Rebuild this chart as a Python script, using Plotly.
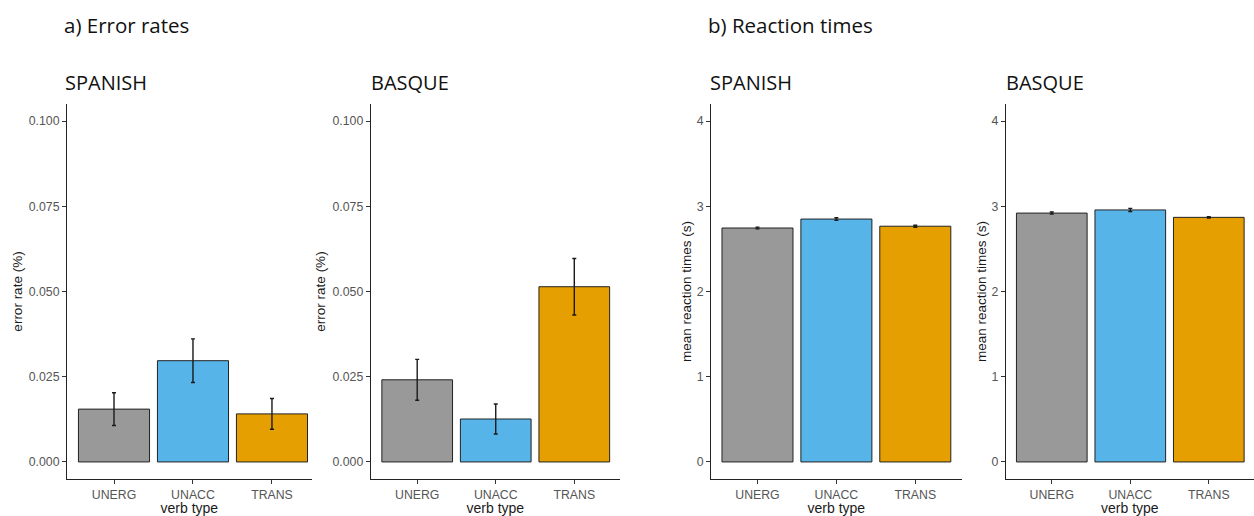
import plotly.graph_objects as go

# ---- data ----
categories = ["UNERG", "UNACC", "TRANS"]
bar_colors = ["#999999", "#56B4E9", "#E69F00"]

err_spanish = [0.0155, 0.0297, 0.0141]
err_spanish_se = [0.0048, 0.0064, 0.0045]
err_basque = [0.0241, 0.0126, 0.0514]
err_basque_se = [0.0060, 0.0044, 0.0083]

rt_spanish = [2.745, 2.850, 2.766]
rt_spanish_se = [0.010, 0.015, 0.012]
rt_basque = [2.920, 2.957, 2.870]
rt_basque_se = [0.012, 0.018, 0.008]

err_ticks = [0, 0.025, 0.05, 0.075, 0.1]
rt_ticks = [0, 1, 2, 3, 4]

W, H = 1254, 516

panels = [
    # (values, se, x-domain px, x-range, y-range, ticks, tickformat, ytitle, subtitle, subtitle x px, y title standoff)
    (err_spanish, err_spanish_se, (67, 311.7), (-0.595, 2.503), (-0.005, 0.105), err_ticks, ".3f", "error rate (%)", "SPANISH", 63, 3),
    (err_basque, err_basque_se, (370.7, 620), (-0.592, 2.582), (-0.005, 0.105), err_ticks, ".3f", "error rate (%)", "BASQUE", 369, 3),
    (rt_spanish, rt_spanish_se, (711, 961.7), (-0.589, 2.588), (-0.2, 4.2), rt_ticks, "d", "mean reaction times (s)", "SPANISH", 708, 1),
    (rt_basque, rt_basque_se, (1005.7, 1254), (-0.587, 2.576), (-0.2, 4.2), rt_ticks, "d", "mean reaction times (s)", "BASQUE", 1004, 1),
]

y_dom = [(516 - 479) / H, (516 - 104) / H]

fig = go.Figure()
layout = dict(
    width=W, height=H,
    margin=dict(l=0, r=0, t=0, b=0),
    paper_bgcolor="white", plot_bgcolor="white",
    showlegend=False,
    font=dict(family="Liberation Sans, Arial", color="#555555"),
    annotations=[],
)

for i, (vals, se, xpx, xr, yr, yt, fmt, ytitle, sub, subx, ystand) in enumerate(panels):
    n = "" if i == 0 else str(i + 1)
    fig.add_trace(go.Bar(
        x=list(range(len(categories))), y=vals,
        width=0.9,
        marker=dict(color=bar_colors, line=dict(color="#222222", width=1)),
        error_y=dict(type="data", array=se, visible=True, color="#1a1a1a", thickness=1.4, width=2),
        xaxis="x" + n, yaxis="y" + n,
        hovertemplate="%{y}<extra></extra>",
    ))
    layout["xaxis" + n] = dict(
        domain=[xpx[0] / W, min(xpx[1] / W, 1.0)],
        range=list(xr), anchor="y" + n,
        tickmode="array", tickvals=list(range(len(categories))), ticktext=categories,
        showline=True, linecolor="#222222", linewidth=1,
        ticks="outside", ticklen=4, tickcolor="#333333", tickwidth=1,
        tickfont=dict(family="Liberation Sans, Arial", size=12.3, color="#555555"),
        showgrid=False, zeroline=False, fixedrange=True,
        title=dict(text="verb type", font=dict(family="Liberation Sans, Arial", size=14, color="#1a1a1a"), standoff=1),
    )
    layout["yaxis" + n] = dict(
        domain=y_dom, range=list(yr), anchor="x" + n,
        tickmode="array", tickvals=yt, tickformat=fmt,
        showline=True, linecolor="#222222", linewidth=1,
        ticks="outside", ticklen=4, tickcolor="#333333", tickwidth=1,
        tickfont=dict(family="Liberation Sans, Arial", size=12.3, color="#555555"),
        showgrid=False, zeroline=False, fixedrange=True,
        title=dict(text=ytitle, font=dict(family="Liberation Sans, Arial", size=13.5, color="#1a1a1a"), standoff=ystand),
    )
    # panel subtitle
    layout["annotations"].append(dict(
        text=sub, xref="paper", yref="paper",
        x=subx / W, y=1 - 82 / H,
        xanchor="left", yanchor="middle", showarrow=False,
        font=dict(family="Open Sans", size=20, color="#111111"),
    ))

layout["annotations"].append(dict(
    text="a) Error rates", xref="paper", yref="paper", x=62 / W, y=1 - 25 / H,
    xanchor="left", yanchor="middle", showarrow=False,
    font=dict(family="Open Sans", size=20.5, color="#111111"),
))
layout["annotations"].append(dict(
    text="b) Reaction times", xref="paper", yref="paper", x=706 / W, y=1 - 25 / H,
    xanchor="left", yanchor="middle", showarrow=False,
    font=dict(family="Open Sans", size=20.5, color="#111111"),
))

fig.update_layout(**layout)
fig.write_html("out.html")
